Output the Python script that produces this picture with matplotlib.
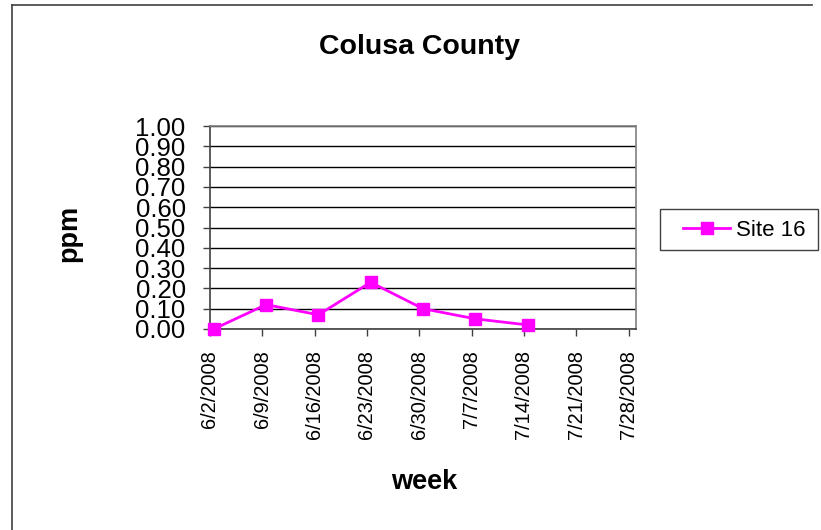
import datetime as dt

import matplotlib
matplotlib.use('Agg')
import matplotlib.dates as mdates
import matplotlib.pyplot as plt
from matplotlib.lines import Line2D
from matplotlib.patches import Rectangle

# data
week_labels = ['6/2/2008', '6/9/2008', '6/16/2008', '6/23/2008', '6/30/2008',
               '7/7/2008', '7/14/2008', '7/21/2008', '7/28/2008']
site16_ppm = [0.00, 0.12, 0.07, 0.23, 0.10, 0.05, 0.02]
y_ticks = [0.0, 0.1, 0.2, 0.3, 0.4, 0.5, 0.6, 0.7, 0.8, 0.9, 1.0]

plt.rcParams['font.family'] = ['Liberation Sans', 'DejaVu Sans']

W, H = 821, 530
fig = plt.figure(figsize=(W / 100, H / 100), dpi=100)

# chart area border (only top/left edges show in the reference)
fig.lines.append(Line2D([12 / W, 12 / W], [0, 1 - 5 / H], transform=fig.transFigure,
                        color='#404040', linewidth=1.2))
fig.lines.append(Line2D([12 / W, 812 / W], [1 - 5 / H, 1 - 5 / H], transform=fig.transFigure,
                        color='#404040', linewidth=1.2))

ax = fig.add_axes([210 / W, 1 - 329 / H, 426 / W, 203 / H])

week_dates = [dt.datetime.strptime(s, '%m/%d/%Y') for s in week_labels]
tick_x = mdates.date2num(week_dates)
# Excel date axis: each point sits in the middle of its day slot
point_x = [x + 0.5 for x in tick_x[:len(site16_ppm)]]

ax.plot(point_x, site16_ppm, color='#ff00ff', linewidth=2,
        marker='s', markersize=8, label='Site 16', zorder=3, clip_on=False)

ax.set_xlim(tick_x[0], tick_x[-1] + 1)
ax.set_ylim(0, 1.0)

ax.set_yticks(y_ticks)
ax.set_yticklabels([f'{v:.2f}' for v in y_ticks], fontsize=18.5)
ax.set_xticks(tick_x)
ax.set_xticklabels(week_labels, rotation=90, fontsize=14.4)

ax.yaxis.grid(True, color='black', linewidth=1)
ax.set_axisbelow(True)
ax.tick_params(axis='both', direction='out', length=5, width=1, color='#404040')
ax.tick_params(axis='y', pad=12.5)
ax.tick_params(axis='x', pad=10)

ax.spines['left'].set_color('#404040')
ax.spines['bottom'].set_color('#404040')
ax.spines['top'].set_color('#808080')
ax.spines['right'].set_color('#808080')
for s in ax.spines.values():
    s.set_linewidth(1.2)

fig.text(419 / W, 1 - 47 / H, 'Colusa County', fontsize=20.5, fontweight='bold',
         ha='center', va='center')
fig.text(424.5 / W, 1 - 482 / H, 'week', fontsize=19.5, fontweight='bold',
         ha='center', va='center')
fig.text(69 / W, 1 - 233.5 / H, 'ppm', fontsize=19.5, fontweight='bold',
         ha='center', va='center', rotation=90)

# legend box drawn separately so its padding matches the reference
fig.patches.append(Rectangle((660 / W, 1 - 250 / H), 158 / W, 41 / H,
                             transform=fig.transFigure, fill=False,
                             edgecolor='#404040', linewidth=1))
fig.legend(loc='center left', bbox_to_anchor=(683 / W, 1 - 230 / H),
           fontsize=16, frameon=False, borderpad=0,
           handlelength=2.12, handletextpad=0.27, borderaxespad=0)

fig.savefig('out.png', dpi=100)
